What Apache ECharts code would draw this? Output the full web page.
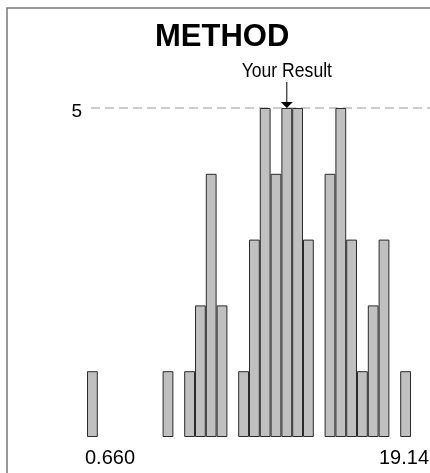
<!DOCTYPE html>
<html><head><meta charset="utf-8">
<script src="https://cdn.jsdelivr.net/npm/echarts@6/dist/echarts.min.js"></script>
<style>html,body{margin:0;padding:0;background:#fff}#c{width:430px;height:473px}</style>
</head><body><div id="c"></div>
<script>
// ---- data ----
const titleText = 'METHOD';
const binIndex = ['0','1','2','3','4','5','6','7','8','9','10','11','12','13','14','15','16','17','18','19','20','21','22','23','24','25','26','27','28','29'];
const binCounts = [1,0,0,0,0,0,0,1,0,1,2,4,2,0,1,3,5,4,5,5,3,0,4,5,3,1,2,3,0,1];
const xRangeLabels = ['0.660', '19.14'];
const yTicks = [5];
const yTickLabels = ['5'];
const resultBin = 18;
const resultLabel = 'Your Result';

const FONT = '"Liberation Sans", Arial, sans-serif';

const chart = echarts.init(document.getElementById('c'), null, {renderer: 'canvas'});
chart.setOption({
  animation: false,
  backgroundColor: '#fff',
  title: {
    text: titleText, left: 150, top: 17,
    textStyle: {fontFamily: FONT, fontSize: 31, fontWeight: 'bold', color: '#000'}
  },
  grid: {left: 87, right: 19, top: 108, bottom: 36, containLabel: false},
  xAxis: {
    type: 'category', data: binIndex,
    axisLine: {show: false}, axisTick: {show: false}, axisLabel: {show: false},
    splitLine: {show: false}
  },
  yAxis: {
    type: 'value', min: 0, max: yTicks[yTicks.length - 1], interval: yTicks[0],
    axisLine: {show: false}, axisTick: {show: false}, axisLabel: {show: false},
    splitLine: {show: false}
  },
  series: [{
    type: 'bar', data: binCounts.map(v => (v === 0 ? '-' : v)), barCategoryGap: '0%', barGap: '0%',
    itemStyle: {color: '#c0c0c0', borderColor: '#2a2a2a', borderWidth: 1}
  }]
});

function build() {
  const graphics = [];
  graphics.push({type: 'rect', shape: {x: 7, y: 8, width: 600, height: 600},
    style: {fill: 'none', stroke: '#777', lineWidth: 1.5}, silent: true, z: 0});
  yTicks.forEach((v, i) => {
    const y = chart.convertToPixel({yAxisIndex: 0}, v);
    graphics.push({type: 'line', shape: {x1: 91, y1: y, x2: 430, y2: y},
      style: {stroke: '#999', lineWidth: 1, lineDash: [9, 5]}, z: -1, silent: true});
    graphics.push({type: 'text', x: 82, y: y + 4,
      style: {text: yTickLabels[i], font: '19px ' + FONT, fill: '#000', align: 'right', verticalAlign: 'middle'}});
  });
  const rx = chart.convertToPixel({xAxisIndex: 0}, binIndex[resultBin]);
  const ry = chart.convertToPixel({yAxisIndex: 0}, binCounts[resultBin]);
  graphics.push({type: 'line', shape: {x1: rx, y1: 82, x2: rx, y2: ry - 5},
    style: {stroke: '#000', lineWidth: 1}, z: 10});
  graphics.push({type: 'polygon', shape: {points: [[rx - 6, ry - 6], [rx + 6, ry - 6], [rx, ry]]},
    style: {fill: '#000'}, z: 10});
  graphics.push({type: 'text', x: rx, y: 71, scaleX: 0.88,
    style: {text: resultLabel, font: '20px ' + FONT, fill: '#000', align: 'center', verticalAlign: 'middle'}});
  const x0 = chart.convertToPixel({xAxisIndex: 0}, binIndex[0]);
  const x1 = chart.convertToPixel({xAxisIndex: 0}, binIndex[binIndex.length - 1]);
  const bw = x1 - chart.convertToPixel({xAxisIndex: 0}, binIndex[binIndex.length - 2]);
  const yb = chart.convertToPixel({yAxisIndex: 0}, 0);
  graphics.push({type: 'text', x: x0 - bw / 2 - 2, y: yb + 21,
    style: {text: xRangeLabels[0], font: '20px ' + FONT, fill: '#000', align: 'left', verticalAlign: 'middle'}});
  graphics.push({type: 'text', x: 429, y: yb + 21,
    style: {text: xRangeLabels[1], font: '20px ' + FONT, fill: '#000', align: 'right', verticalAlign: 'middle'}});
  chart.setOption({graphic: graphics});
}
build();
</script>
</body></html>
